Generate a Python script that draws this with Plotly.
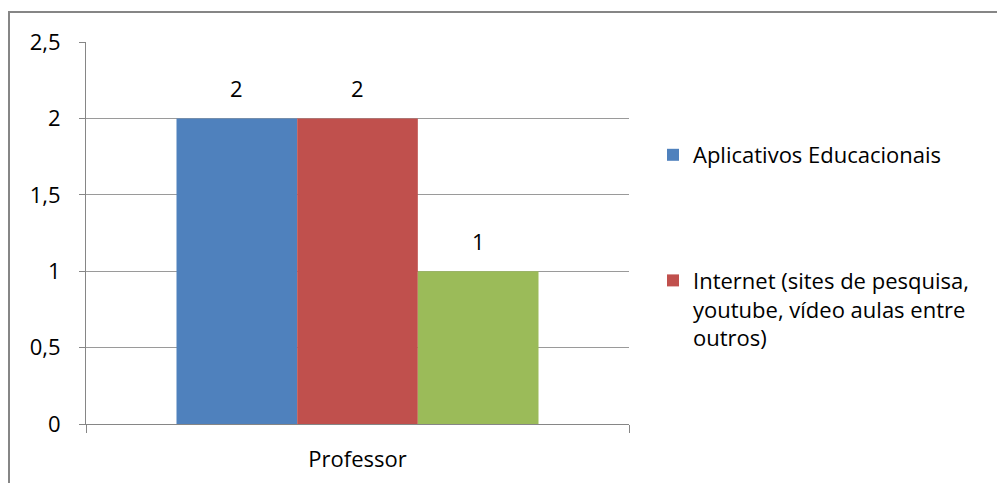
import plotly.graph_objects as go

categories = ["Professor"]
series_names = [
    "Aplicativos Educacionais",
    "Internet (sites de pesquisa,<br>youtube, vídeo aulas entre<br>outros)",
    "Outros",
]
series_values = [[2], [2], [1]]
series_colors = ["#4F81BD", "#C0504D", "#9BBB59"]
show_in_legend = [True, True, False]
y_ticks = [0, 0.5, 1, 1.5, 2, 2.5]

FONT = "Open Sans"
FS = 22
BARGAP = 1 / 3

# page offset (browser body margin) compensation
OFF = 8
L, T, PW, PH = 86 - OFF, 42 - OFF, 543, 382

fig = go.Figure()
for i, (name, vals, col, sl) in enumerate(zip(series_names, series_values, series_colors, show_in_legend)):
    fig.add_trace(go.Bar(
        x=categories, y=vals, name=name, marker_color=col,
        marker_line_width=0, showlegend=sl, legendgroup=f"g{i}",
    ))

# data labels above each bar
n = len(series_values)
bw = (1 - BARGAP) / n
for i, vals in enumerate(series_values):
    for j, v in enumerate(vals):
        fig.add_annotation(
            x=j - (1 - BARGAP) / 2 + bw * (i + 0.5), y=v, xref="x", yref="y",
            text=str(v), showarrow=False, yanchor="bottom", yshift=13,
            font=dict(family=FONT, size=FS, color="#000000"),
        )

# chart outer border
fig.add_shape(type="rect", xref="paper", yref="paper",
              x0=(9 - 86) / PW, x1=2.0, y0=-1.0, y1=1 + 30 / PH,
              line=dict(color="#868686", width=2), fillcolor="rgba(0,0,0,0)", layer="below")

fig.update_layout(
    width=1005, height=483,
    margin=dict(l=L, r=1005 - L - PW, t=T, b=483 - T - PH, autoexpand=False),
    paper_bgcolor="white", plot_bgcolor="white",
    barmode="group", bargap=BARGAP, bargroupgap=0,
    separators=", ",
    font=dict(family=FONT, size=FS, color="#000000"),
    showlegend=True,
    legend=dict(
        x=(653 - 86) / PW, xanchor="left", y=1 - (134 - 42) / PH, yanchor="top",
        traceorder="grouped", tracegroupgap=94, valign="top",
        font=dict(family=FONT, size=FS, color="#000000"),
        bgcolor="rgba(0,0,0,0)", itemclick=False,
    ),
    xaxis=dict(
        type="category", showline=True, linecolor="#868686", linewidth=1,
        ticks="outside", tickson="boundaries", ticklen=8, tickcolor="#868686",
        showgrid=False, tickfont=dict(family=FONT, size=FS), fixedrange=True,
        ticklabelstandoff=16,
    ),
    yaxis=dict(
        range=[0, 2.5], tickvals=y_ticks, showline=True, linecolor="#868686", linewidth=1,
        ticks="outside", ticklen=6, tickcolor="#868686",
        showgrid=True, gridcolor="#9a9a9a", gridwidth=1, zeroline=False,
        tickfont=dict(family=FONT, size=FS), ticklabelstandoff=14, fixedrange=True,
    ),
)

fig.write_html("out.html")
